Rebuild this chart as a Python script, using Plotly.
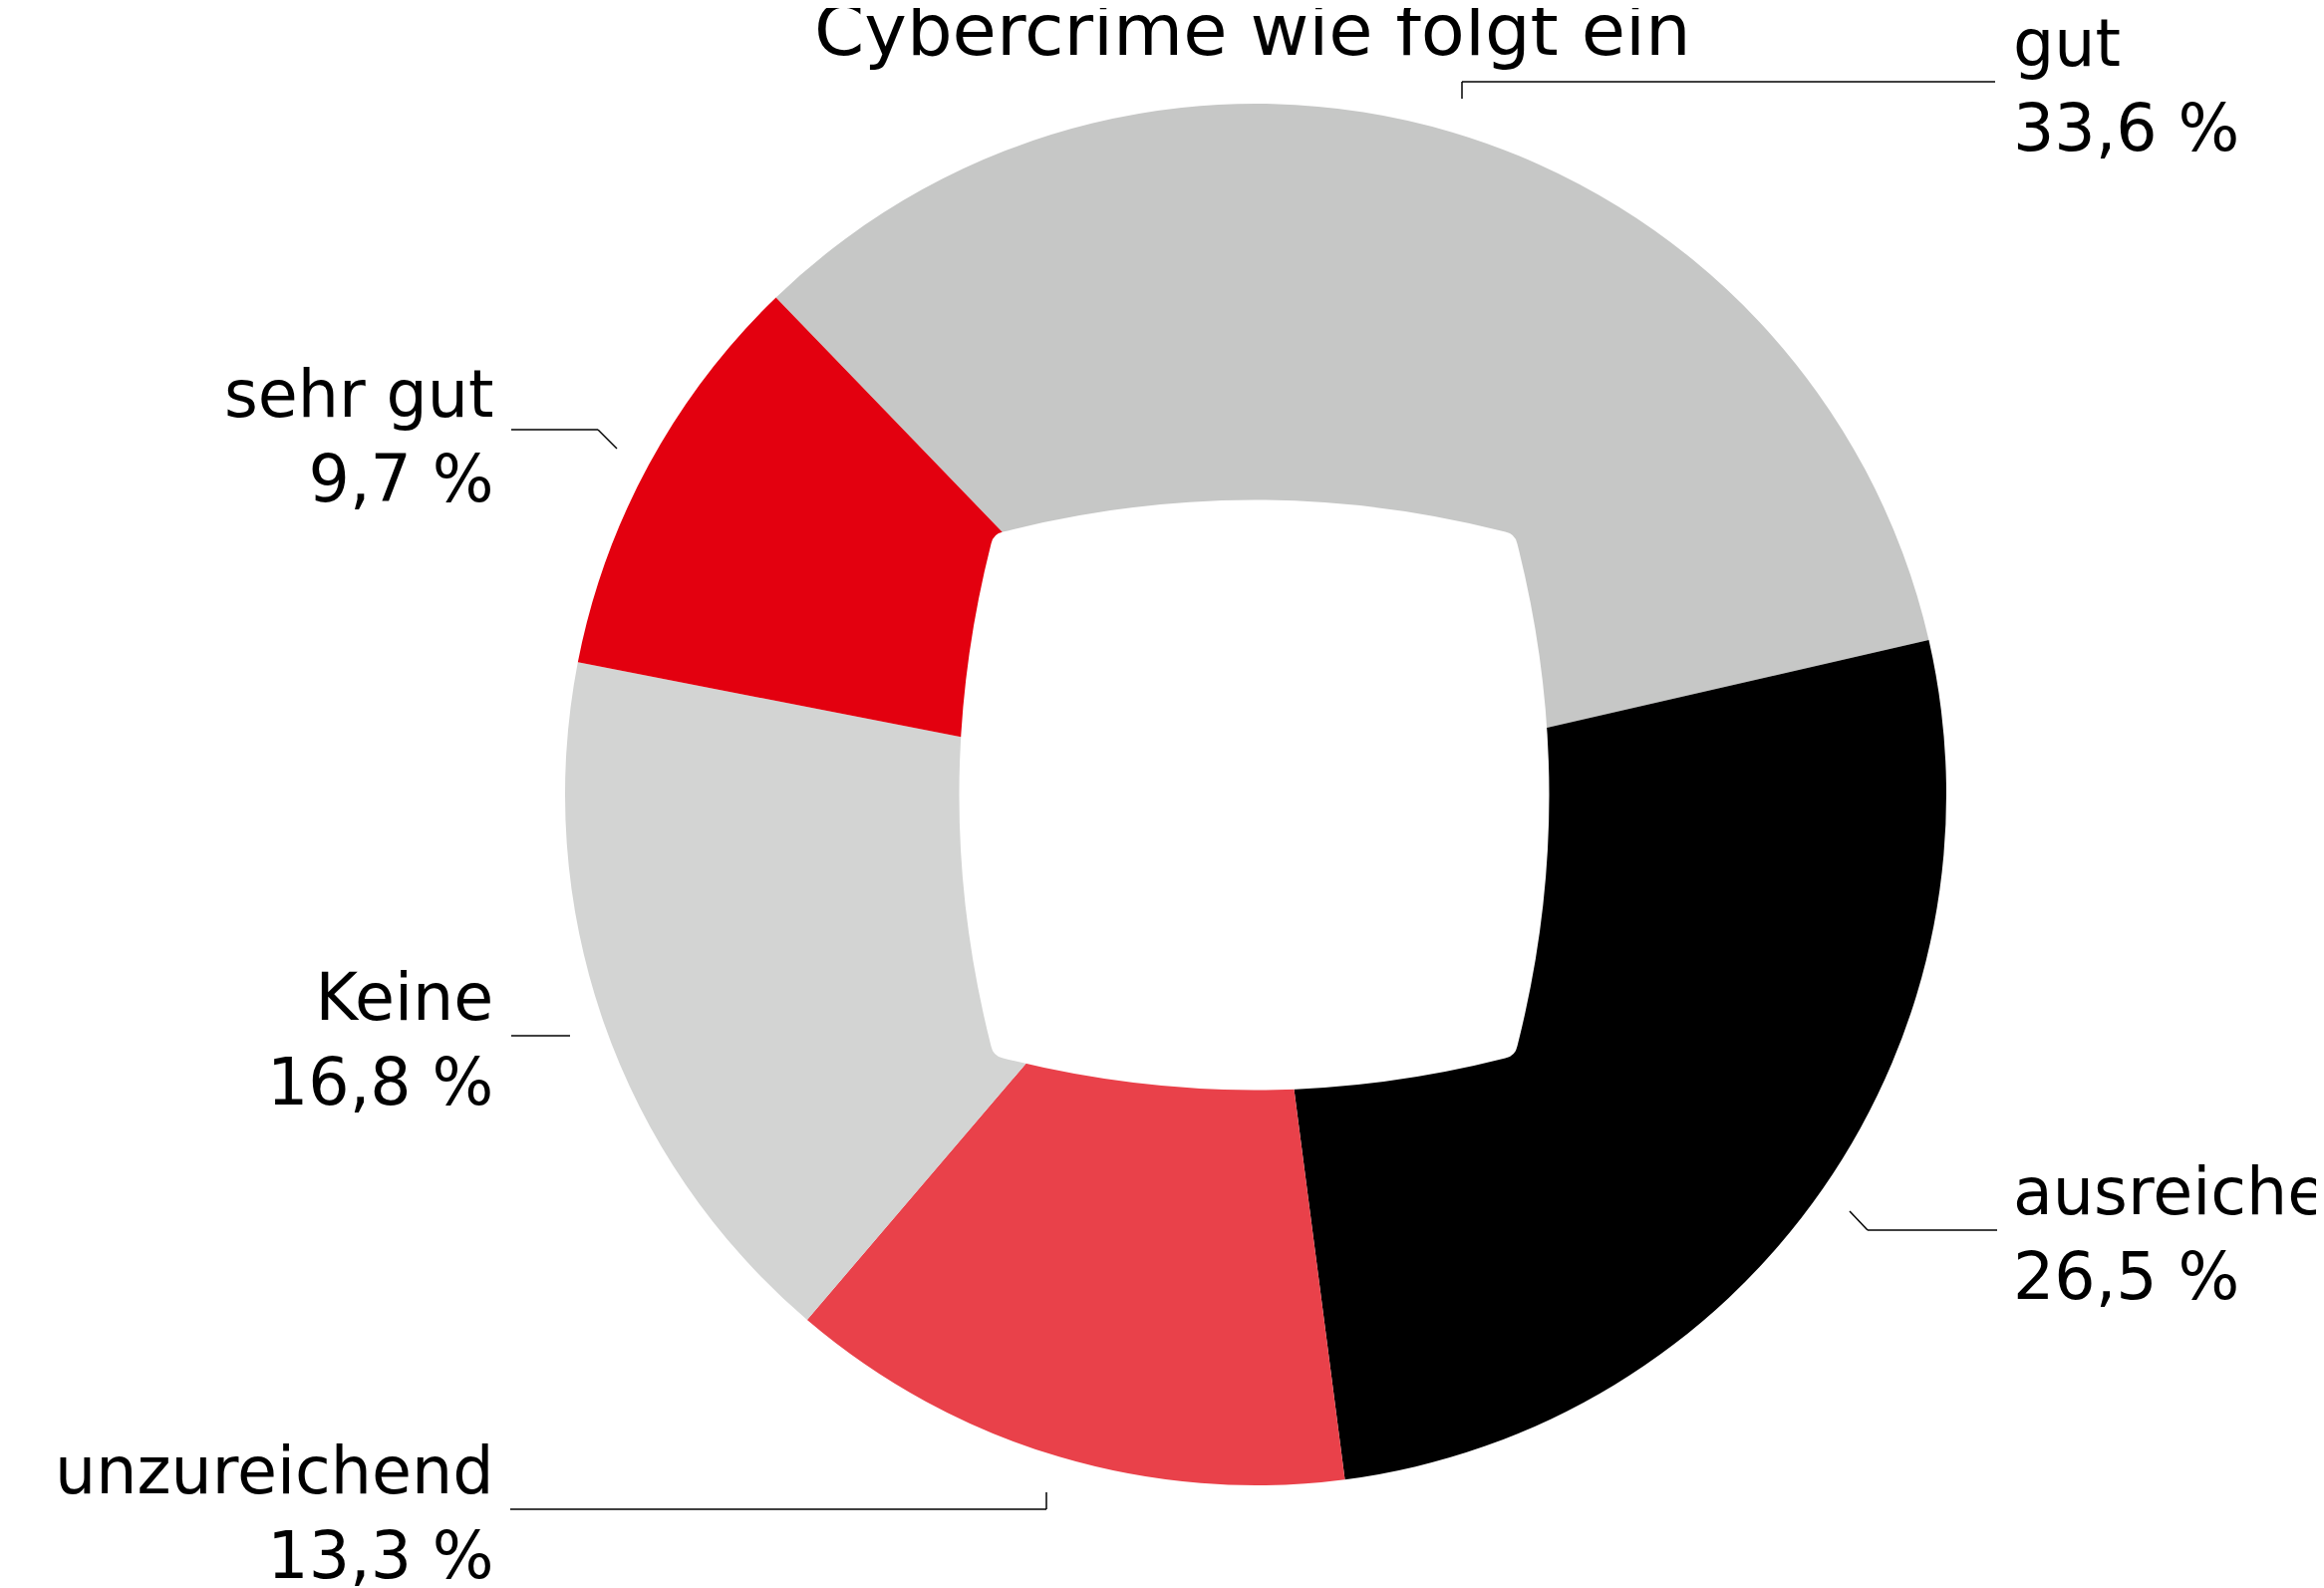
import plotly.graph_objects as go

W, H = 2332, 1593

# ---- data ----
categories = ["gut", "ausreichend", "unzureichend", "Keine", "sehr gut"]
values = [33.6, 26.5, 13.3, 16.8, 9.7]
value_labels = ["33,6 %", "26,5 %", "13,3 %", "16,8 %", "9,7 %"]
colors = ["#C6C7C6", "#000000", "#E9414A", "#D3D4D3", "#E3000F"]
title_text = "Cybercrime wie folgt ein"

FONT = "DejaVu Sans"
FS = 65
TFS = 72

# page offset (body margin) compensation
OFF = 8

# pie geometry in pixels
CX, CY, R = 1260, 797, 693


def px(x):
    return (x - OFF) / W


def py(y):
    return 1 - (y - OFF) / H


fig = go.Figure()
fig.add_trace(go.Pie(
    labels=categories,
    values=values,
    marker=dict(colors=colors, line=dict(width=0)),
    sort=False,
    direction="clockwise",
    rotation=-44,
    hole=0.35,
    textinfo="none",
    hoverinfo="label+percent",
    domain=dict(x=[px(CX - R), px(CX + R)], y=[py(CY + R), py(CY - R)]),
    showlegend=False,
))

# white rounded-square hole
hx, hy = 1258.5, 797.5
a, c, r, d = 262, 328, 10, 2
pts = [
    ("M", [(hx - a + r, hy - a - d)]),
    ("Q", [(hx, hy - c), (hx + a - r, hy - a - d)]),
    ("Q", [(hx + a, hy - a), (hx + a + d, hy - a + r)]),
    ("Q", [(hx + c, hy), (hx + a + d, hy + a - r)]),
    ("Q", [(hx + a, hy + a), (hx + a - r, hy + a + d)]),
    ("Q", [(hx, hy + c), (hx - a + r, hy + a + d)]),
    ("Q", [(hx - a, hy + a), (hx - a - d, hy + a - r)]),
    ("Q", [(hx - c, hy), (hx - a - d, hy - a + r)]),
    ("Q", [(hx - a, hy - a), (hx - a + r, hy - a - d)]),
]
path = ""
for cmd, ps in pts:
    path += cmd + " " + " ".join(f"{px(x):.6f},{py(y):.6f}" for x, y in ps) + " "
path += "Z"
fig.add_shape(type="path", path=path, xref="paper", yref="paper",
              fillcolor="white", line=dict(width=0), layer="above")

# leader lines (pixel polylines)
leaders = [
    [(1467, 99), (1467, 82), (2002, 82)],          # gut
    [(1856, 1215), (1874, 1234), (2004, 1234)],     # ausreichend
    [(1050, 1497), (1050, 1514), (512, 1514)],      # unzureichend
    [(572, 1039), (513, 1039)],                     # Keine
    [(619, 450), (600, 431), (513, 431)],           # sehr gut
]
for pl in leaders:
    for (x0, y0), (x1, y1) in zip(pl[:-1], pl[1:]):
        fig.add_shape(type="line", xref="paper", yref="paper",
                      x0=px(x0), y0=py(y0), x1=px(x1), y1=py(y1),
                      line=dict(color="black", width=1.5), layer="above")

# labels: (x, first baseline, anchor)
label_pos = [
    (2018, 63, "left"),
    (2018, 1215, "left"),
    (497, 1495, "right"),
    (497, 1020, "right"),
    (497, 415, "right"),
]
for cat, vl, (x, bl, anc) in zip(categories, value_labels, label_pos):
    fig.add_annotation(
        x=px(x), y=py(bl + 0.35 * FS), xref="paper", yref="paper",
        text=f"{cat}<br>{vl}", showarrow=False,
        xanchor=anc, yanchor="middle", align=anc,
        font=dict(family=FONT, size=FS, color="black"),
    )

fig.add_annotation(
    x=px(1257), y=py(52 - 0.3 * TFS), xref="paper", yref="paper",
    text=title_text, showarrow=False, xanchor="center", yanchor="middle",
    font=dict(family=FONT, size=TFS, color="black"),
)

fig.update_layout(
    width=W, height=H,
    margin=dict(l=0, r=0, t=0, b=0),
    paper_bgcolor="white", plot_bgcolor="white",
    showlegend=False,
)

fig.write_html("out.html")
